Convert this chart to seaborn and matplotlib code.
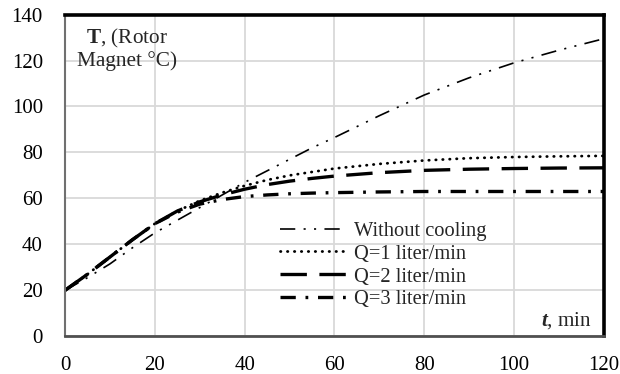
import matplotlib
matplotlib.use("Agg")
import matplotlib.pyplot as plt
import seaborn as sns
import pandas as pd

# time, min
t = [0, 5, 10, 15, 20, 25, 30, 35, 40, 45, 50, 55, 60, 70, 80, 90, 100, 110, 120]

# rotor magnet temperature, deg C
no_cool = [20, 25.5, 31.5, 38.5, 45, 50.5, 56, 61.5, 67, 72, 77, 82, 86.5, 96, 105, 112.5, 119, 124.5, 129.5]
q1 = [20, 27, 34.5, 42, 49, 54.5, 59, 62.5, 65.5, 68, 70, 71.5, 73, 75, 76.5, 77.5, 78, 78.3, 78.5]
q2 = [20, 27, 34.5, 42, 49, 54.5, 58.5, 61.5, 64, 66, 67.5, 68.7, 69.7, 71.2, 72.2, 72.7, 73, 73.2, 73.3]
q3 = [20, 27, 34.5, 42, 49, 54, 57.5, 59.5, 60.8, 61.5, 62, 62.3, 62.5, 62.8, 63, 63, 63, 63, 63]

labels = ["Without cooling", "Q=1 liter/min", "Q=2 liter/min", "Q=3 liter/min"]

sns.set_theme(style="white")
plt.rcParams["font.family"] = ["Liberation Serif", "DejaVu Serif"]
plt.rcParams["mathtext.fontset"] = "custom"
plt.rcParams["mathtext.rm"] = "Liberation Serif"
plt.rcParams["mathtext.bf"] = "Liberation Serif:bold"
plt.rcParams["mathtext.bfit"] = "Liberation Serif:bold:italic"
plt.rcParams["lines.scale_dashes"] = False

fig = plt.figure(figsize=(6.2, 3.74), dpi=100)
ax = fig.add_axes([0.105, 0.101, 0.869, 0.86])

styles = [
    dict(color="black", lw=1.2, linestyle=(0, (11, 6, 1.5, 6, 1.5, 6))),
    dict(color="black", lw=2.0, linestyle=(0, (0.3, 4.7)), dash_capstyle="round"),
    dict(color="black", lw=2.4, linestyle=(0, (19, 9))),
    dict(color="black", lw=2.4, linestyle=(0, (11, 7, 2, 7))),
]
for ys, lab, st in zip([no_cool, q1, q2, q3], labels, styles):
    df = pd.DataFrame({"t": t, "T": ys})
    sns.lineplot(data=df, x="t", y="T", ax=ax, label=lab, errorbar=None, **st)

ax.set_xlim(0, 120)
ax.set_ylim(0, 140)
ax.set_xticks(range(0, 121, 20))
ax.set_yticks(range(0, 141, 20))
ax.set_xlabel("")
ax.set_ylabel("")
ax.grid(True, color="#d9d9d9", lw=1.3)
ax.tick_params(axis="both", length=0, labelsize=15, colors="black")
ax.tick_params(axis="y", pad=16)
ax.tick_params(axis="x", pad=14)

for side in ["top", "right"]:
    ax.spines[side].set_color("black")
    ax.spines[side].set_linewidth(2.6)
ax.spines["left"].set_color("#707070")
ax.spines["left"].set_linewidth(1.5)
ax.spines["bottom"].set_color("#505050")
ax.spines["bottom"].set_linewidth(2.0)

ax.text(0.115, 0.894, "$\\mathbf{T}$, (Rotor\nMagnet °C)", transform=ax.transAxes,
        ha="center", va="center", fontsize=15.3, multialignment="center", linespacing=1.05)
ax.text(0.978, 0.05, "$\\mathbfit{t}$, min", transform=ax.transAxes,
        ha="right", va="center", fontsize=15.2)

ax.legend(loc="upper left", bbox_to_anchor=(0.398, 0.357), frameon=False, fontsize=14.8,
          handlelength=3.3, handletextpad=0.33, labelspacing=0.17, borderpad=0,
          borderaxespad=0)

fig.savefig("out.png", dpi=100)
